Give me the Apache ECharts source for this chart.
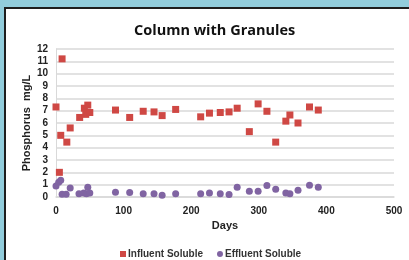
<!DOCTYPE html>
<html>
<head>
<meta charset="utf-8">
<script src="https://cdn.jsdelivr.net/npm/echarts@6/dist/echarts.min.js"></script>
<style>
  html, body { margin: 0; padding: 0; background: #92cddc; }
  #panel {
    position: absolute; left: 4px; top: 7px; width: 405px; height: 253px;
    background: #fff; border-top: 2px solid #1e1e1e; border-left: 2px solid #1e1e1e;
    box-sizing: border-box;
  }
  #chart { position: absolute; left: 0; top: 0; width: 409px; height: 260px; }
</style>
</head>
<body>
<div id="panel"></div>
<div id="chart"></div>
<script>
// influent soluble P (mg/L) by day
const influentDays = [0, 5, 7, 9, 16, 21, 35, 42, 44, 47, 50, 88, 109, 129, 145, 157, 177,
    214, 227, 243, 256, 268, 286, 299, 312, 325, 340, 346, 358, 375, 388];
const influentVals = [7.3, 2.0, 5.0, 11.2, 4.45, 5.6, 6.45, 7.2, 6.7, 7.45, 6.85, 7.05, 6.45, 6.95, 6.9, 6.6, 7.1,
    6.5, 6.8, 6.85, 6.9, 7.2, 5.3, 7.55, 6.95, 4.45, 6.15, 6.65, 6.0, 7.3, 7.05];

// effluent soluble P (mg/L) by day
const effluentDays = [0, 4, 7, 9, 15, 21, 34, 41, 45, 47, 50, 88, 109, 129, 145, 157, 177,
    214, 227, 243, 256, 268, 286, 299, 312, 325, 340, 346, 358, 375, 388];
const effluentVals = [0.9, 1.2, 1.35, 0.22, 0.22, 0.73, 0.27, 0.33, 0.27, 0.8, 0.33, 0.38, 0.36, 0.27, 0.27, 0.14, 0.27,
    0.27, 0.33, 0.27, 0.2, 0.79, 0.46, 0.46, 0.93, 0.63, 0.33, 0.27, 0.54, 0.95, 0.79];

const pairs = (xs, ys) => xs.map((x, i) => [x, ys[i]]);

const FONT = 'Liberation Sans';
let chart = echarts.init(document.getElementById('chart'));

chart.setOption({
    backgroundColor: 'transparent',
    textStyle: { fontFamily: FONT },
    title: {
        text: 'Column with Granules',
        left: 129,
        top: 18,
        textStyle: { fontFamily: 'Open Sans', fontWeight: 'bold', fontSize: 14.5, color: '#111' }
    },
    legend: {
        top: 244,
        left: 115,
        itemWidth: 6,
        itemHeight: 6,
        itemGap: 14,
        textStyle: { fontSize: 10, fontWeight: 'bold', color: '#333', padding: [0, 0, 0, -3] },
        data: [
            { name: 'Influent Soluble', icon: 'rect' },
            { name: 'Effluent Soluble', icon: 'circle' }
        ]
    },
    grid: { left: 56, right: 15, top: 49, bottom: 63 },
    xAxis: {
        type: 'value',
        min: 0,
        max: 500,
        interval: 100,
        name: 'Days',
        nameLocation: 'middle',
        nameGap: 23,
        nameTextStyle: { fontWeight: 'bold', fontSize: 11, color: '#222' },
        axisLine: { show: true, lineStyle: { color: '#d9d9d9', width: 1.5 } },
        axisTick: { show: false },
        splitLine: { show: false },
        axisLabel: { fontWeight: 'bold', fontSize: 10, color: '#222', margin: 9 }
    },
    yAxis: {
        type: 'value',
        min: 0,
        max: 12,
        interval: 1,
        name: 'Phosphorus  mg/L',
        nameLocation: 'middle',
        nameGap: 24,
        nameMoveOverlap: false,
        nameTextStyle: { fontWeight: 'bold', fontSize: 11, color: '#222' },
        axisLine: { show: true, lineStyle: { color: '#d9d9d9', width: 1 } },
        axisTick: { show: false },
        splitLine: { lineStyle: { color: '#d9d9d9', width: 1.5 } },
        axisLabel: { fontWeight: 'bold', fontSize: 10, color: '#222', margin: 8 }
    },
    series: [
        {
            name: 'Influent Soluble',
            type: 'scatter',
            symbol: 'rect',
            symbolSize: 7,
            itemStyle: { color: '#cf4844', opacity: 1 },
            data: pairs(influentDays, influentVals)
        },
        {
            name: 'Effluent Soluble',
            type: 'scatter',
            symbol: 'circle',
            symbolSize: 7,
            itemStyle: { color: '#8064a2', opacity: 1 },
            data: pairs(effluentDays, effluentVals)
        }
    ]
});
</script>
</body>
</html>
